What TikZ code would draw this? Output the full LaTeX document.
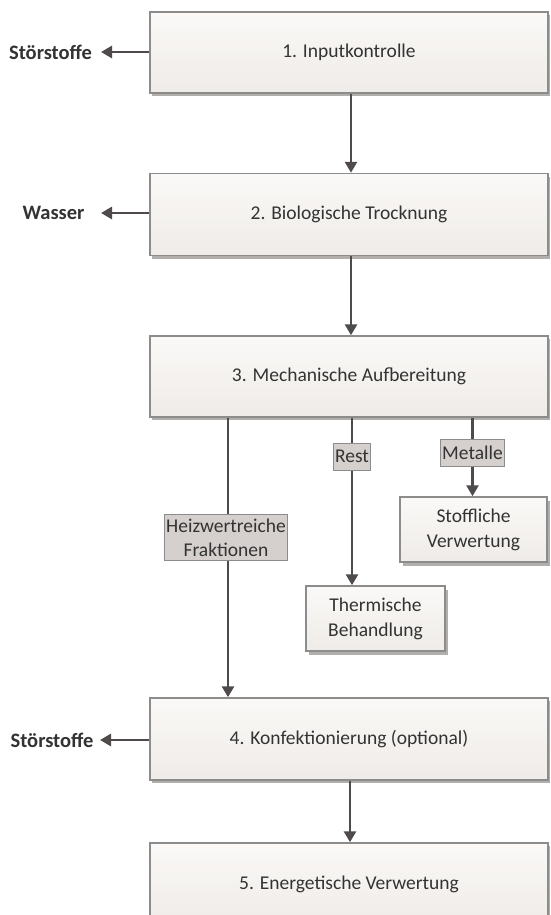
\documentclass[tikz,border=0pt]{standalone}
\usepackage{fontspec}
\setmainfont{Carlito}
\usetikzlibrary{shadows,arrows.meta,calc}
\definecolor{bordergray}{HTML}{8C8C8C}
\definecolor{boxtop}{HTML}{FBF9F7}
\definecolor{boxbot}{HTML}{EEEBE8}
\definecolor{shadowgray}{HTML}{B2AEAB}
\definecolor{labelgray}{HTML}{D5D0CD}
\definecolor{textgray}{HTML}{333333}
\definecolor{arrowgray}{HTML}{4F4B4B}
\tikzset{
  procbox/.style={draw=bordergray, line width=1.5pt, top color=boxtop, bottom color=boxbot,
    drop shadow={shadow xshift=1.5pt, shadow yshift=-3pt, fill=shadowgray, opacity=1},
    minimum width=398pt, inner sep=0pt, text=textgray,
    font=\fontsize{19.5}{23}\selectfont},
  smallbox/.style={draw=bordergray, line width=1.5pt, top color=boxtop, bottom color=boxbot,
    drop shadow={shadow xshift=2.5pt, shadow yshift=-3.5pt, fill=shadowgray, opacity=1},
    inner sep=0pt, align=center, text=textgray, minimum height=65pt,
    font=\fontsize{19.5}{25}\selectfont},
  flowlabel/.style={draw=bordergray, line width=1pt, fill=labelgray, inner xsep=1.5pt, inner ysep=4pt,
    minimum height=27pt, align=center, text=textgray, font=\fontsize{19.5}{24}\selectfont},
  sidelabel/.style={inner sep=0pt, text=textgray, font=\fontsize{20.5}{24}\selectfont\bfseries},
  flow/.style={draw=arrowgray, line width=2.8pt, -{Triangle[length=11pt,width=12pt]}},
  plainline/.style={draw=arrowgray, line width=2.8pt}
}
\begin{document}
\begin{tikzpicture}[x=1pt,y=-1pt]
\useasboundingbox (0,0) rectangle (550,915);
\clip (0,0) rectangle (550,915);
\fill[white] (0,0) rectangle (550,915);

% main process boxes
\node[procbox, minimum height=81pt] (b1) at (349,52.5) {1. Inputkontrolle};
\node[procbox, minimum height=82pt] (b2) at (349,214.5) {2. Biologische Trocknung};
\node[procbox, minimum height=81pt] (b3) at (349,376.5) {3. Mechanische Aufbereitung};
\node[procbox, minimum height=82pt] (b4) at (349,739) {4. Konfektionierung (optional)};
\node[procbox, minimum height=82pt] (b5) at (349,884) {5. Energetische Verwertung};

% side boxes
\node[smallbox, minimum width=147pt] (sv) at (473.5,529.5) {Stoffliche\\Verwertung};
\node[smallbox, minimum width=139pt] (tb) at (375.5,618.5) {Thermische\\Behandlung};

% branch labels
\node[flowlabel] (hz) at (226,537.5) {Heizwertreiche\\Fraktionen};
\node[flowlabel] (rest) at (352,456.5) {Rest};
\node[flowlabel] (met) at (472.5,453) {Metalle};

% side outputs
\node[sidelabel] (s1) at (50.5,52) {Störstoffe};
\node[sidelabel] (w2) at (53.5,213) {Wasser};
\node[sidelabel] (s4) at (52,740) {Störstoffe};
\coordinate (t1) at (101,52);
\coordinate (t2) at (101,213);
\coordinate (t4) at (100,740);

% main flow
\draw[flow] (b1.south -| 351,0) -- (b2.north -| 351,0);
\draw[flow] (b2.south -| 351,0) -- (b3.north -| 351,0);
\draw[flow] (b4.south -| 350,0) -- (b5.north -| 350,0);

% side arrows
\draw[flow] (b1.west |- t1) -- (t1);
\draw[flow] (b2.west |- t2) -- (t2);
\draw[flow] (b4.west |- t4) -- (t4);

% branches
\draw[plainline] (b3.south -| 228,0) -- (228,0 |- hz.north);
\draw[flow] (228,0 |- hz.south) -- (228,0 |- b4.north);
\draw[plainline] (b3.south -| rest) -- (rest.north);
\draw[flow] (rest.south) -- (rest |- tb.north);
\draw[plainline] (b3.south -| met) -- (met.north);
\draw[flow] (met.south) -- (met |- sv.north);
\end{tikzpicture}
\end{document}
